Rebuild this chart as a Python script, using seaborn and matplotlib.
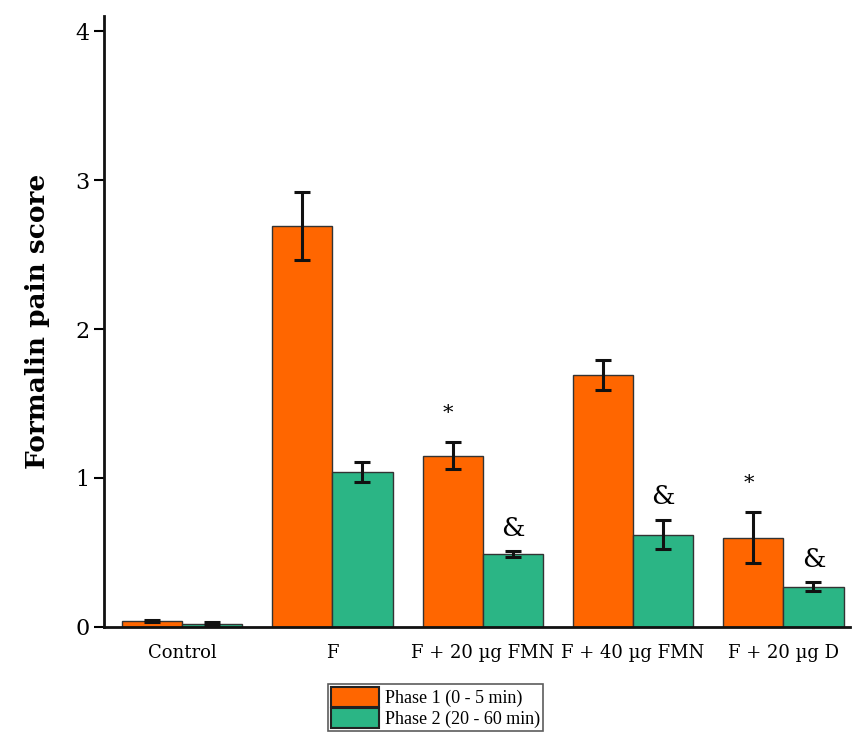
import numpy as np
import pandas as pd
import matplotlib
matplotlib.use('Agg')
import matplotlib.pyplot as plt
import seaborn as sns

# data
groups = ['Control', 'F', 'F + 20 \u00b5g FMN', 'F + 40 \u00b5g FMN', 'F + 20 \u00b5g D']
phases = ['Phase 1 (0 - 5 min)', 'Phase 2 (20 - 60 min)']
phase1 = [0.04, 2.69, 1.15, 1.69, 0.60]
phase1_err = [0.01, 0.23, 0.09, 0.10, 0.17]
phase2 = [0.02, 1.04, 0.49, 0.62, 0.27]
phase2_err = [0.01, 0.065, 0.02, 0.10, 0.03]
# significance marks: (group index, phase index, symbol)
marks = [(2, 0, '*'), (2, 1, '&'), (3, 1, '&'), (4, 0, '*'), (4, 1, '&')]

colors = ['#FF6600', '#2BB585']

df = pd.DataFrame({
    'group': groups * 2,
    'phase': [phases[0]] * 5 + [phases[1]] * 5,
    'score': phase1 + phase2,
})

sns.set_style('white')
plt.rcParams['font.family'] = ['DejaVu Serif']
plt.rcParams['text.color'] = 'black'
plt.rcParams['xtick.color'] = 'black'
plt.rcParams['ytick.color'] = 'black'
plt.rcParams['axes.labelcolor'] = 'black'

fig = plt.figure(figsize=(8.52, 7.35), dpi=100)
ax = fig.add_axes([0.122, 0.147, 0.876, 0.831])

sns.barplot(data=df, x='group', y='score', hue='phase', palette=colors,
            width=0.8, errorbar=None, edgecolor='#333333', linewidth=1.0,
            saturation=1, ax=ax, legend=False)

# error bars and marks placed on the same category scale
means = [phase1, phase2]
errs = [phase1_err, phase2_err]
offsets = [-0.2, 0.2]
for p in range(2):
    xs = np.arange(len(groups)) + offsets[p]
    ax.errorbar(xs, means[p], yerr=errs[p], fmt='none', ecolor='#111111',
                elinewidth=2.2, capsize=6, capthick=2.2, zorder=5)

for gi, pi, sym in marks:
    x = gi + offsets[pi]
    top = means[pi][gi] + errs[pi][gi]
    if sym == '*':
        ax.text(x - 0.03, top + 0.13, sym, ha='center', va='bottom', fontsize=15)
    else:
        ax.text(x, top + 0.07, sym, ha='center', va='bottom', fontsize=19)

ax.set_ylim(0, 4.1)
ax.set_xlim(-0.52, 4.445)
ax.set_yticks([0, 1, 2, 3, 4])
ax.set_yticklabels(['0', '1', '2', '3', '4'], fontsize=16)
ax.tick_params(axis='y', direction='out', length=7, width=1.5, left=True)
ax.tick_params(axis='x', length=0, labelsize=13, pad=12)
ax.set_xlabel('')
ax.set_ylabel('Formalin pain score', fontsize=19, fontweight='bold', labelpad=18)

sns.despine(ax=ax)
ax.spines['left'].set_linewidth(2)
ax.spines['bottom'].set_linewidth(2)
ax.spines['left'].set_color('#111111')
ax.spines['bottom'].set_color('#111111')

handles = [plt.Rectangle((0, 0), 1, 1, facecolor=c, edgecolor='#222222', linewidth=1.5)
           for c in colors]
leg = fig.legend(handles, phases, loc='upper left', bbox_to_anchor=(0.385, 0.069),
                 prop={'family': 'Liberation Serif', 'size': 13},
                 frameon=True, fancybox=False, borderpad=0.15,
                 handlelength=2.7, handleheight=1.3, handletextpad=0.3,
                 labelspacing=0.05, borderaxespad=0)
leg.get_frame().set_edgecolor('#333333')
leg.get_frame().set_linewidth(1.2)

fig.savefig('out.png', dpi=100)
